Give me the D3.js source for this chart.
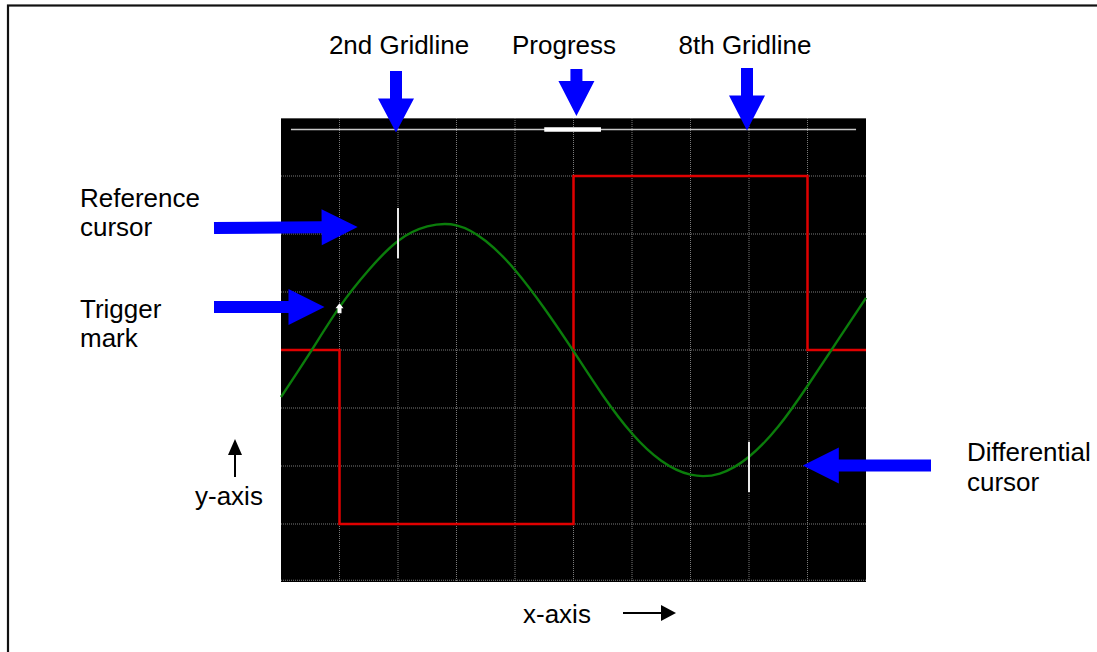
<!DOCTYPE html>
<html>
<head>
<meta charset="utf-8">
<script src="https://cdn.jsdelivr.net/npm/d3@7"></script>
<style>
  body { margin: 0; background: #fff; }
  text { font-family: "Liberation Sans", Arial, sans-serif; font-size: 26px; fill: #000; }
</style>
</head>
<body>
<div id="chart"></div>
<script>
// data (x in divisions, y in divisions)
const sineTimes  = [0, 0.5, 1, 1.5, 2, 2.5, 3, 3.5, 4, 4.5, 5, 5.5, 6, 6.5, 7, 7.5, 8, 8.5, 9, 9.5, 10];
const sineValues = [-0.81, -0.04, 0.74, 1.38, 1.88, 2.13, 2.15, 1.88, 1.38, 0.72, -0.02, -0.78, -1.44, -1.91, -2.15, -2.13, -1.84, -1.32, -0.62, 0.14, 0.9];

const squareTimes  = [0, 1, 5, 9, 10];
const squareValues = [0, -3, 3, 0, 0];

const cursorTimes = [2, 8];               // reference, differential
const cursorLows  = [1.58, -2.45];
const cursorHighs = [2.45, -1.58];

const triggerPoint = [1, 0.72];

const progressTrack = [0.17, 9.83];
const progressDone  = [4.5, 5.47];
const progressLevel = 3.8;

// constants
const width = 1097, height = 652;
const screen = {x0: 281, x1: 866, y0: 118, y1: 582};
const blue = "#0000ff";

const svg = d3.select("#chart")
  .append("svg")
  .attr("width", width)
  .attr("height", height);

// outer frame (runs off the right and bottom edge)
svg.append("rect")
  .attr("x", 8).attr("y", 5.5)
  .attr("width", 1200).attr("height", 700)
  .attr("fill", "none")
  .attr("stroke", "#111")
  .attr("stroke-width", 2.2);

const x = d3.scaleLinear().domain([0, 10]).range([screen.x0, screen.x1]);
const y = d3.scaleLinear().domain([-4, 4]).range([screen.y1, screen.y0]);

// scope screen
svg.append("rect")
  .attr("x", x(0)).attr("y", y(4))
  .attr("width", x(10) - x(0)).attr("height", y(-4) - y(4))
  .attr("fill", "#000");

svg.append("line")
  .attr("x1", x(0)).attr("x2", x(10))
  .attr("y1", y(4) + 0.5).attr("y2", y(4) + 0.5)
  .attr("stroke", "#555").attr("stroke-width", 1);

// dotted grid
const grid = svg.append("g")
  .attr("stroke", "#7a7a7a")
  .attr("stroke-width", 1)
  .attr("stroke-dasharray", "1,1");

grid.selectAll(".vgrid")
  .data(d3.range(1, 10))
  .join("line")
  .attr("class", "vgrid")
  .attr("x1", d => x(d)).attr("x2", d => x(d))
  .attr("y1", y(4)).attr("y2", y(-4));

grid.selectAll(".hgrid")
  .data(d3.range(-3, 4).concat([-3.97]))
  .join("line")
  .attr("class", "hgrid")
  .attr("x1", x(0)).attr("x2", x(10))
  .attr("y1", d => y(d)).attr("y2", d => y(d));

// progress bar
svg.append("line")
  .attr("x1", x(progressTrack[0])).attr("x2", x(progressTrack[1]))
  .attr("y1", y(progressLevel)).attr("y2", y(progressLevel))
  .attr("stroke", "#c8c8c8").attr("stroke-width", 1.5);

svg.append("line")
  .attr("x1", x(progressDone[0])).attr("x2", x(progressDone[1]))
  .attr("y1", y(progressLevel)).attr("y2", y(progressLevel))
  .attr("stroke", "#fff").attr("stroke-width", 4.5);

// square wave
const squareData = squareTimes.map((t, i) => ({t: t, v: squareValues[i]}));
svg.append("path")
  .datum(squareData)
  .attr("fill", "none")
  .attr("stroke", "#e00000")
  .attr("stroke-width", 2.5)
  .attr("d", d3.line().x(d => x(d.t)).y(d => y(d.v)).curve(d3.curveStepAfter));

// sine wave
const sineData = sineTimes.map((t, i) => ({t: t, v: sineValues[i]}));
svg.append("path")
  .datum(sineData)
  .attr("fill", "none")
  .attr("stroke", "#0b7d0b")
  .attr("stroke-width", 2.4)
  .attr("d", d3.line().x(d => x(d.t)).y(d => y(d.v)).curve(d3.curveNatural));

// cursors
svg.selectAll(".cursor")
  .data(cursorTimes)
  .join("line")
  .attr("class", "cursor")
  .attr("x1", d => x(d)).attr("x2", d => x(d))
  .attr("y1", (d, i) => y(cursorLows[i])).attr("y2", (d, i) => y(cursorHighs[i]))
  .attr("stroke", "#e8e8e8")
  .attr("stroke-width", 2);

// trigger mark
const tx = x(triggerPoint[0]), ty = y(triggerPoint[1]);
svg.append("path")
  .attr("d", `M${tx},${ty - 5} L${tx + 4},${ty} L${tx + 2},${ty} L${tx + 2},${ty + 5} L${tx - 2},${ty + 5} L${tx - 2},${ty} L${tx - 4},${ty} Z`)
  .attr("fill", "#fff");

// fat block arrow from (x1,y1) to tip (x2,y2)
function blockArrow(x1, y1, x2, y2, shaft, head, headLen, color) {
  const dx = x2 - x1, dy = y2 - y1;
  const len = Math.hypot(dx, dy);
  const ux = dx / len, uy = dy / len;
  const nx = -uy, ny = ux;
  const bx = x2 - ux * headLen, by = y2 - uy * headLen;
  const pts = [
    [x1 + nx * shaft / 2, y1 + ny * shaft / 2],
    [bx + nx * shaft / 2, by + ny * shaft / 2],
    [bx + nx * head / 2, by + ny * head / 2],
    [x2, y2],
    [bx - nx * head / 2, by - ny * head / 2],
    [bx - nx * shaft / 2, by - ny * shaft / 2],
    [x1 - nx * shaft / 2, y1 - ny * shaft / 2]
  ];
  svg.append("path")
    .attr("d", "M" + pts.map(p => p.join(",")).join("L") + "Z")
    .attr("fill", color);
}

// blue callout arrows
blockArrow(x(2) - 2, 71, x(2) - 2, y(progressLevel) + 3, 12, 36, 34, blue);
blockArrow(x(5.05), 69, x(5.05), 116, 12, 36, 35, blue);
blockArrow(x(8) - 2, 68, x(8) - 2, y(progressLevel) + 1, 12, 36, 35, blue);
blockArrow(214, 228, x(1.31), 227, 12, 36, 36, blue);
blockArrow(214, 307, tx - 15, 307, 12, 36, 36, blue);
blockArrow(931, 465.5, x(8.92), 465.5, 12, 36, 36, blue);

// thin black axis arrows
blockArrow(235, 477, 235, 439, 2, 14, 16, "#000");
blockArrow(623, 613, 676, 613, 2, 16, 15, "#000");

// labels
const labels = [
  {text: "2nd Gridline", x: 399, y: 54, anchor: "middle"},
  {text: "Progress", x: 564, y: 54, anchor: "middle"},
  {text: "8th Gridline", x: 745, y: 54, anchor: "middle"},
  {text: "Reference", x: 80, y: 207, anchor: "start"},
  {text: "cursor", x: 80, y: 236, anchor: "start"},
  {text: "Trigger", x: 80, y: 318, anchor: "start"},
  {text: "mark", x: 80, y: 347, anchor: "start"},
  {text: "Differential", x: 967, y: 461, anchor: "start"},
  {text: "cursor", x: 967, y: 491, anchor: "start"},
  {text: "y-axis", x: 195, y: 505, anchor: "start"},
  {text: "x-axis", x: 523, y: 623, anchor: "start"}
];

svg.selectAll(".label")
  .data(labels)
  .join("text")
  .attr("class", "label")
  .attr("x", d => d.x)
  .attr("y", d => d.y)
  .attr("text-anchor", d => d.anchor)
  .text(d => d.text);
</script>
</body>
</html>
